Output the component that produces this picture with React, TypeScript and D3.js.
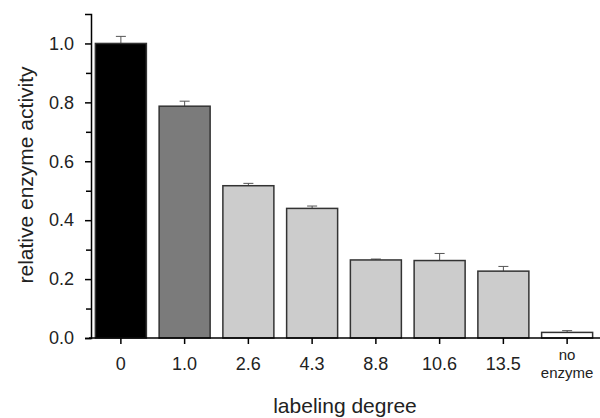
import React, { useRef, useEffect } from 'react';
import * as d3 from 'd3';

const categories = ['0', '1.0', '2.6', '4.3', '8.8', '10.6', '13.5', 'no enzyme'];
const activity = [1.0, 0.787, 0.517, 0.44, 0.265, 0.263, 0.227, 0.019];
const errors = [0.024, 0.017, 0.008, 0.008, 0.003, 0.024, 0.016, 0.006];
const fills = ['#000000', '#7b7b7b', '#cccccc', '#cccccc', '#cccccc', '#cccccc', '#cccccc', '#ffffff'];
const majorTicks = [0, 0.2, 0.4, 0.6, 0.8, 1.0];
const minorTicks = [0.1, 0.3, 0.5, 0.7, 0.9];

export default function App() {
  const ref = useRef<SVGSVGElement>(null);

  useEffect(() => {
    const svg = d3.select(ref.current);
    svg.selectAll('*').remove();

    const x = d3.scaleBand<string>()
      .domain(categories)
      .range([89, 599])
      .paddingInner(0.2)
      .paddingOuter(0.1);
    const y = d3.scaleLinear().domain([0, 1.1]).range([338, 14]);
    const font = '"Liberation Sans", Arial, sans-serif';

    const rows = categories.map((c, i) => ({ c, v: activity[i], e: errors[i], f: fills[i] }));

    // error bars (upper only)
    const err = svg.append('g').attr('stroke', '#555').attr('stroke-width', 1);
    rows.forEach(d => {
      const cx = x(d.c)! + x.bandwidth() / 2;
      err.append('line').attr('x1', cx).attr('x2', cx).attr('y1', y(d.v)).attr('y2', y(d.v + d.e));
      err.append('line').attr('x1', cx - 5).attr('x2', cx + 5).attr('y1', y(d.v + d.e)).attr('y2', y(d.v + d.e));
    });

    svg.append('g')
      .selectAll('rect')
      .data(rows)
      .join('rect')
      .attr('x', d => x(d.c)!)
      .attr('y', d => y(d.v))
      .attr('width', x.bandwidth())
      .attr('height', d => y(0) - y(d.v))
      .attr('fill', d => d.f)
      .attr('stroke', '#333')
      .attr('stroke-width', 1.5);

    // y axis
    const yAxis = svg.append('g')
      .attr('transform', 'translate(91,0)')
      .call(d3.axisLeft(y).tickValues(majorTicks).tickSize(6).tickFormat(d3.format('.1f')));
    yAxis.select('.domain').attr('stroke-width', 1.5);
    yAxis.selectAll('.tick line').attr('stroke-width', 1.5);
    yAxis.selectAll('text').attr('font-size', 18).attr('font-family', font).attr('x', -17).attr('fill', '#222');
    svg.append('g')
      .attr('transform', 'translate(91,0)')
      .call(d3.axisLeft(y).tickValues(minorTicks).tickSize(5).tickFormat(() => ''))
      .call(g => g.select('.domain').remove())
      .selectAll('line').attr('stroke-width', 1.5);

    // x axis
    const xAxis = svg.append('g')
      .attr('transform', `translate(0,${y(0)})`)
      .call(d3.axisBottom(x).tickSize(6).tickSizeOuter(0).tickFormat(() => ''));
    xAxis.select('.domain').attr('stroke-width', 1.5).attr('d', 'M89,0H600');
    xAxis.selectAll('.tick line').attr('stroke-width', 1.5);

    const labels = svg.append('g')
      .attr('font-family', font)
      .attr('fill', '#222')
      .attr('text-anchor', 'middle');
    categories.forEach(c => {
      const cx = x(c)! + x.bandwidth() / 2;
      const words = c.split(' ');
      if (words.length === 1) {
        labels.append('text').attr('x', cx).attr('y', 370).attr('font-size', 18).text(c);
      } else {
        labels.append('text').attr('x', cx).attr('y', 360).attr('font-size', 15).text(words[0]);
        labels.append('text').attr('x', cx).attr('y', 378).attr('font-size', 15).text(words[1]);
      }
    });

    svg.append('text')
      .attr('x', 345)
      .attr('y', 413)
      .attr('text-anchor', 'middle')
      .attr('font-family', font)
      .attr('font-size', 21)
      .attr('fill', '#222')
      .text('labeling degree');

    svg.append('text')
      .attr('transform', 'translate(33,175) rotate(-90)')
      .attr('text-anchor', 'middle')
      .attr('font-family', font)
      .attr('font-size', 21)
      .attr('fill', '#222')
      .text('relative enzyme activity');
  }, []);

  return (
    <svg ref={ref} width={600} height={418} style={{ position: 'absolute', left: 0, top: 0 }} />
  );
}
